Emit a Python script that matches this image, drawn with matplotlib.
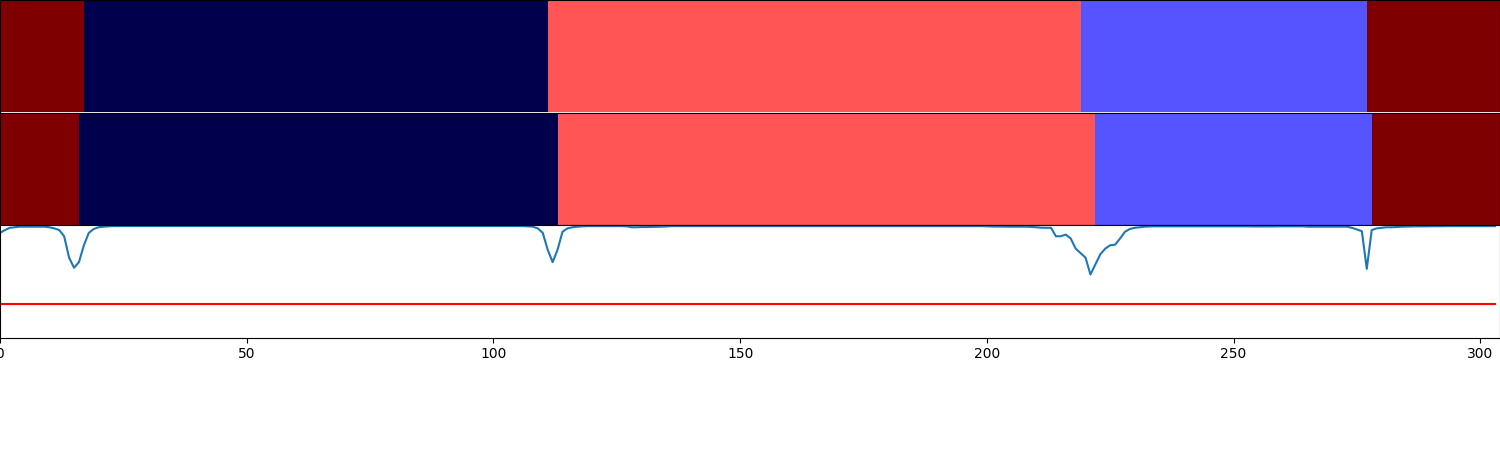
import matplotlib
matplotlib.use("Agg")
import matplotlib.pyplot as plt
import numpy as np

# segments: (class id, number of frames)
gt_labels = [3, 0, 2, 1, 3]
gt_lengths = [17, 94, 108, 58, 27]
pred_labels = [3, 0, 2, 1, 3]
pred_lengths = [16, 97, 109, 56, 26]

# per-frame confidence (304 frames)
confidence = [
    0.93, 0.955, 0.975, 0.98, 0.985, 0.985, 0.985, 0.985, 0.985, 0.985, 0.98, 0.97, 0.955, 0.90, 0.71, 0.62,
    0.67, 0.82, 0.93, 0.965, 0.98, 0.985, 0.988, 0.99, 0.99, 0.99, 0.99, 0.99, 0.99, 0.99, 0.99, 0.99,
    0.99, 0.99, 0.99, 0.99, 0.99, 0.99, 0.99, 0.99, 0.99, 0.99, 0.99, 0.99, 0.99, 0.99, 0.99, 0.99,
    0.99, 0.99, 0.99, 0.99, 0.99, 0.99, 0.99, 0.99, 0.99, 0.99, 0.99, 0.99, 0.99, 0.99, 0.99, 0.99,
    0.99, 0.99, 0.99, 0.99, 0.99, 0.99, 0.99, 0.99, 0.99, 0.99, 0.99, 0.99, 0.99, 0.99, 0.99, 0.99,
    0.99, 0.99, 0.99, 0.99, 0.99, 0.99, 0.99, 0.99, 0.99, 0.99, 0.99, 0.99, 0.99, 0.99, 0.99, 0.99,
    0.99, 0.99, 0.99, 0.99, 0.99, 0.99, 0.99, 0.99, 0.99, 0.99, 0.99, 0.988, 0.985, 0.97, 0.93, 0.78,
    0.67, 0.78, 0.94, 0.97, 0.98, 0.985, 0.988, 0.99, 0.99, 0.99, 0.99, 0.99, 0.99, 0.99, 0.99, 0.988,
    0.98, 0.98, 0.982, 0.982, 0.983, 0.984, 0.985, 0.987, 0.99, 0.99, 0.99, 0.99, 0.99, 0.99, 0.99, 0.99,
    0.99, 0.99, 0.99, 0.99, 0.99, 0.99, 0.99, 0.99, 0.99, 0.99, 0.99, 0.99, 0.99, 0.99, 0.99, 0.99,
    0.99, 0.99, 0.99, 0.99, 0.99, 0.99, 0.99, 0.99, 0.99, 0.99, 0.99, 0.99, 0.99, 0.99, 0.99, 0.99,
    0.99, 0.99, 0.99, 0.99, 0.99, 0.99, 0.99, 0.99, 0.99, 0.99, 0.99, 0.99, 0.99, 0.99, 0.99, 0.99,
    0.99, 0.99, 0.99, 0.99, 0.99, 0.99, 0.99, 0.99, 0.988, 0.987, 0.986, 0.986, 0.985, 0.985, 0.985, 0.985,
    0.985, 0.983, 0.98, 0.976, 0.975, 0.975, 0.90, 0.90, 0.915, 0.88, 0.79, 0.75, 0.71, 0.56, 0.65, 0.74,
    0.79, 0.82, 0.825, 0.88, 0.94, 0.965, 0.975, 0.98, 0.985, 0.987, 0.988, 0.988, 0.988, 0.988, 0.988, 0.988,
    0.988, 0.988, 0.988, 0.988, 0.988, 0.988, 0.988, 0.988, 0.988, 0.988, 0.988, 0.988, 0.988, 0.988, 0.987, 0.987,
    0.987, 0.987, 0.987, 0.988, 0.988, 0.988, 0.988, 0.988, 0.988, 0.985, 0.985, 0.985, 0.985, 0.985, 0.985, 0.985,
    0.985, 0.985, 0.975, 0.96, 0.945, 0.61, 0.955, 0.97, 0.975, 0.98, 0.98, 0.982, 0.985, 0.986, 0.987, 0.988,
    0.988, 0.988, 0.989, 0.989, 0.989, 0.99, 0.99, 0.99, 0.99, 0.99, 0.99, 0.99, 0.99, 0.99, 0.99, 0.99,
]
threshold = 0.3


def segment_bars_with_confidence(save_path, confidence, *labels):
    num_pics = len(labels) + 1
    color_map = plt.get_cmap('seismic')
    barprops = dict(aspect='auto', cmap=color_map, interpolation='nearest', vmin=0)
    fig = plt.figure(figsize=(15, num_pics * 1.5))

    interval = 1 / (num_pics + 1)
    for i, label in enumerate(labels):
        i = i + 1
        ax1 = fig.add_axes([0, 1 - i * interval, 1, interval])
        ax1.imshow([label], **barprops)

    n = len(confidence)
    ax4 = fig.add_axes([0, interval, 1, interval])
    ax4.set_xlim(0, n)
    ax4.set_ylim(0, 1)
    ax4.plot(range(n), confidence)
    ax4.plot(range(n), [threshold] * n, color='red', label='0.5')

    plt.savefig(save_path)
    plt.close()


def main():
    gt = np.repeat(gt_labels, gt_lengths)
    pred = np.repeat(pred_labels, pred_lengths)
    segment_bars_with_confidence('out.png', confidence, gt, pred)


if __name__ == '__main__':
    main()
